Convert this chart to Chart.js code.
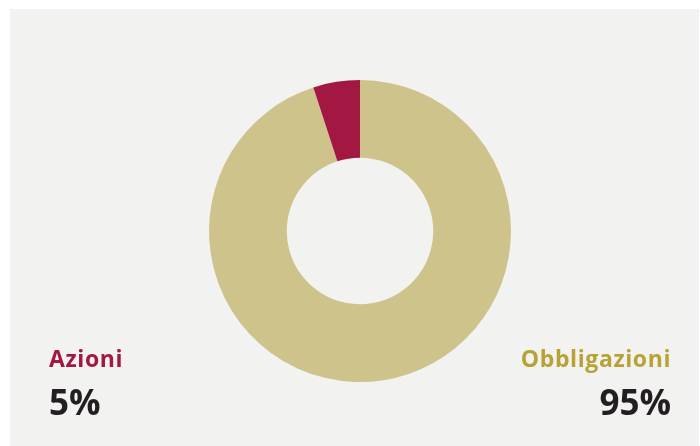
<!DOCTYPE html>
<html>
<head>
<meta charset="utf-8">
<script src="https://cdn.jsdelivr.net/npm/chart.js@4.4.1/dist/chart.umd.min.js"></script>
<style>
    html, body { margin: 0; padding: 0; background: #ffffff; }
    #panel { position: absolute; left: 10px; top: 9px; width: 689px; height: 437px; background: #f2f2f1; }
    #wrap { position: absolute; left: 0; top: 0; width: 700px; height: 446px; }
</style>
</head>
<body>
<div id="panel"></div>
<div id="wrap"><canvas id="chartAllocazione"></canvas></div>
<script>
// dati del grafico
const categorie = ['Obbligazioni', 'Azioni'];
const percentuali = [95, 5];
const coloriFette = ['#cec48b', '#a31842'];
const coloriEtichette = ['#b8a236', '#a31842'];

// etichette agli angoli: Azioni a sinistra, Obbligazioni a destra
const etichetteAngoli = {
    id: 'etichetteAngoli',
    afterDraw(chart) {
        const ctx = chart.ctx;
        const posizioni = { 'Azioni': { x: 49, align: 'left' }, 'Obbligazioni': { x: 671, align: 'right' } };
        ctx.save();
        categorie.forEach((nome, i) => {
            const p = posizioni[nome];
            ctx.textAlign = p.align;
            ctx.textBaseline = 'alphabetic';
            ctx.fillStyle = coloriEtichette[i];
            ctx.font = 'bold 23px "Open Sans"';
            ctx.letterSpacing = '0.6px';
            ctx.fillText(nome, p.x, 367);
            ctx.fillStyle = '#231f20';
            ctx.font = 'bold 35px "Open Sans"';
            ctx.letterSpacing = '0px';
            ctx.fillText(percentuali[i] + '%', p.x, 415);
        });
        ctx.restore();
    }
};

new Chart(document.getElementById('chartAllocazione').getContext('2d'), {
    type: 'doughnut',
    data: {
        labels: categorie,
        datasets: [{
            data: percentuali,
            backgroundColor: coloriFette,
            borderWidth: 0
        }]
    },
    options: {
        responsive: true,
        maintainAspectRatio: false,
        animation: false,
        cutout: '48.5%',
        layout: { padding: { left: 209, right: 189, top: 80, bottom: 64 } },
        plugins: {
            legend: { display: false },
            tooltip: { enabled: false }
        }
    },
    plugins: [etichetteAngoli]
});
</script>
</body>
</html>
